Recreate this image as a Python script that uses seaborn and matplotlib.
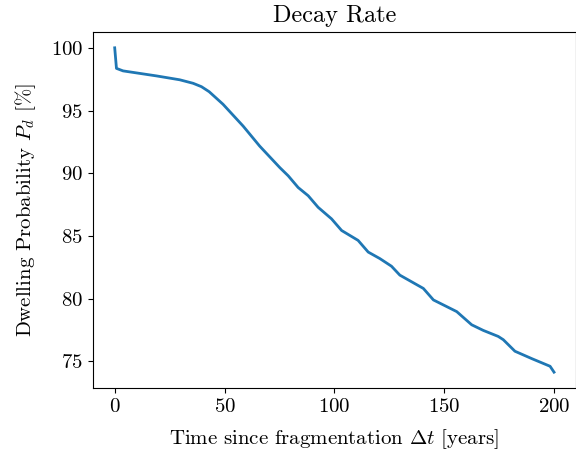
import matplotlib
matplotlib.use("Agg")
import matplotlib.pyplot as plt
import seaborn as sns
import pandas as pd

# Data
time_years = [0, 0.8, 3.8, 19, 29.6, 35.7, 39.5, 43, 49.3, 58.5, 66, 75.2, 79,
              83.5, 88.1, 92.6, 98.7, 103.3, 110.8, 115.4, 120.7, 126, 129.8,
              140.5, 145.1, 155.7, 162.5, 167.8, 174.6, 176.9, 182.2, 190,
              198.2, 200]
dwelling_pct = [100, 98.36, 98.16, 97.76, 97.45, 97.17, 96.9, 96.5, 95.5, 93.75,
                92.16, 90.44, 89.79, 88.86, 88.2, 87.28, 86.36, 85.43, 84.64,
                83.71, 83.19, 82.58, 81.87, 80.81, 79.89, 78.96, 77.91, 77.46,
                76.98, 76.72, 75.8, 75.2, 74.6, 74.13]

title = "Decay Rate"
xlabel = r"Time since fragmentation $\Delta t$ [years]"
ylabel = r"Dwelling Probability $P_d$ [$\%$]"

plt.rcParams["font.family"] = "cmr10"
plt.rcParams["mathtext.fontset"] = "cm"
plt.rcParams["axes.unicode_minus"] = False
plt.rcParams["axes.formatter.use_mathtext"] = True
plt.rcParams["font.size"] = 15

df = pd.DataFrame({"t": time_years, "p": dwelling_pct})

fig = plt.figure(figsize=(5.76, 4.58), dpi=100)
ax = fig.add_axes([0.161, 0.152, 0.839, 0.779])
sns.lineplot(data=df, x="t", y="p", ax=ax, color="#1f77b4", linewidth=2.0)
ax.set_title(title, fontsize=17.5, pad=7)
ax.set_xlabel(xlabel, fontsize=15, labelpad=8)
ax.set_ylabel(ylabel, fontsize=15, labelpad=9)
ax.set_xticks([0, 50, 100, 150, 200])
ax.set_yticks([75, 80, 85, 90, 95, 100])
ax.tick_params(labelsize=15)
fig.savefig("out.png", dpi=100)
